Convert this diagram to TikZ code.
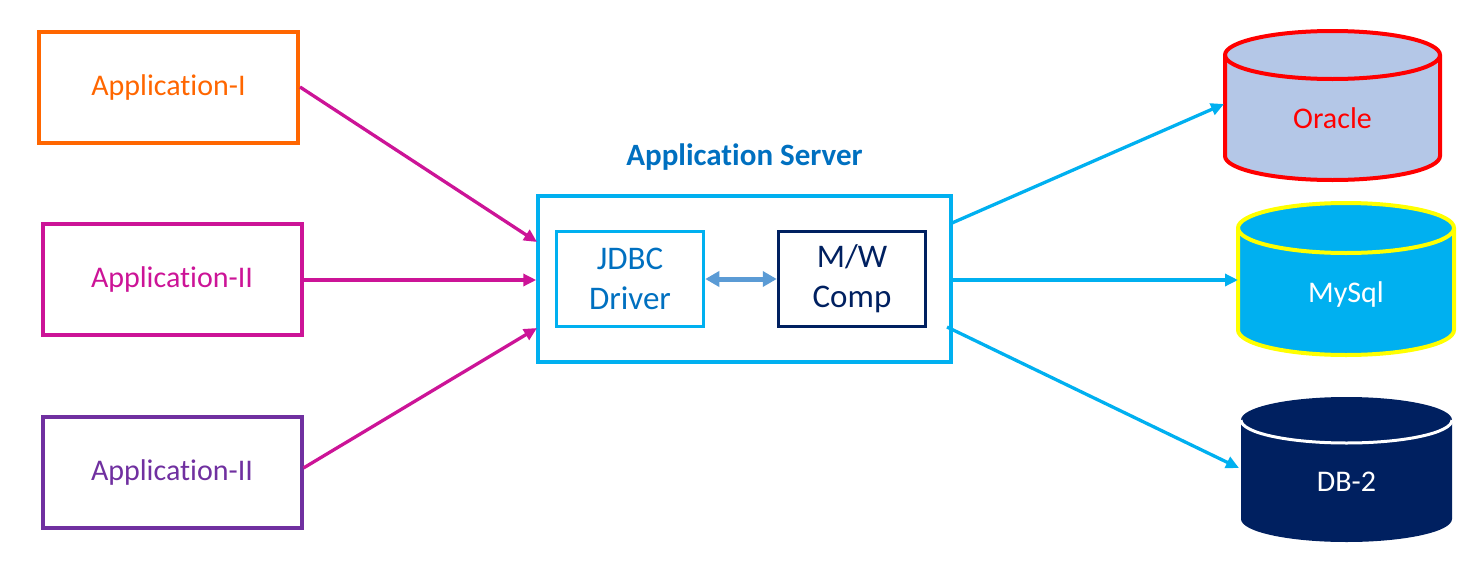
\documentclass[tikz,border=0pt]{standalone}
\usepackage{fontspec}
\setmainfont[RawFeature={-liga;-clig;-dlig;-calt}]{Carlito}
\usetikzlibrary{arrows.meta,calc}
\definecolor{cOrange}{HTML}{FF6600}
\definecolor{cMagenta}{HTML}{CC1497}
\definecolor{cPurple}{HTML}{7030A0}
\definecolor{cLightBlue}{HTML}{00B0F0}
\definecolor{cBlueText}{HTML}{0070C0}
\definecolor{cNavy}{HTML}{002060}
\definecolor{cSteel}{HTML}{5B9BD5}
\definecolor{cOracleFill}{HTML}{B4C7E7}
\definecolor{cYellow}{HTML}{FFFF00}
\tikzset{
  appbox/.style={draw, line width=4pt, minimum width=259pt, minimum height=111pt, inner sep=0pt, font=\fontsize{30}{34}\selectfont},
  innerbox/.style={draw, line width=3.5pt, minimum width=147pt, minimum height=95pt, inner sep=0pt, align=center, font=\fontsize{33}{40}\selectfont},
  inconn/.style={draw=cMagenta, line width=3.3pt, -{Triangle[length=13pt,width=12pt]}},
  outconn/.style={draw=cLightBlue, line width=3.3pt, -{Triangle[length=13pt,width=12pt]}},
  dblabel/.style={font=\fontsize{30}{34}\selectfont, inner sep=0pt},
}
\begin{document}
\begin{tikzpicture}[x=1pt,y=1pt]
\useasboundingbox (0,0) rectangle (1481,-565);
% application boxes
\node[appbox, draw=cOrange, text=cOrange] (app1) at (168.5,-87.5) {\raisebox{-2pt}{Application-I}};
\node[appbox, draw=cMagenta, text=cMagenta] (app2) at (172,-279) {\raisebox{-2pt}{Application-II}};
\node[appbox, draw=cPurple, text=cPurple] (app3) at (172,-472) {\raisebox{-2pt}{Application-II}};
% server
\node[draw=cLightBlue, line width=3.5pt, minimum width=413pt, minimum height=166pt, inner sep=0pt] (server) at (744.5,-279) {};
\node[font=\bfseries\fontsize{31}{34}\selectfont, text=cBlueText, inner sep=0pt] (srvlabel) at (744.5,-157) {Application Server};
\node[innerbox, draw=cLightBlue, text=cBlueText] (jdbc) at (630,-279) {JDBC\\Driver};
\node[innerbox, draw=cNavy, text=cNavy] (mw) at (852,-279) {M/W\\Comp};
\draw[draw=cSteel, line width=5pt, {Triangle[length=14pt,width=15pt]}-{Triangle[length=14pt,width=15pt]}] (jdbc.east) -- (mw.west);
% cylinders
\path[fill=cOracleFill, draw=red, line width=4pt] (1225,-55) -- (1225,-156) arc[start angle=180,end angle=360,x radius=107.5,y radius=24] -- (1440,-55) arc[start angle=0,end angle=180,x radius=107.5,y radius=24] -- cycle;
\draw[red, line width=4pt] (1225,-55) arc[start angle=180,end angle=360,x radius=107.5,y radius=24];
\path[fill=cLightBlue, draw=cYellow, line width=4pt] (1238,-228) -- (1238,-330) arc[start angle=180,end angle=360,x radius=108,y radius=25] -- (1454,-228) arc[start angle=0,end angle=180,x radius=108,y radius=25] -- cycle;
\draw[cYellow, line width=4pt] (1238,-228) arc[start angle=180,end angle=360,x radius=108,y radius=25];
\path[fill=cNavy] (1241,-420) -- (1241,-519) arc[start angle=180,end angle=360,x radius=105.5,y radius=23] -- (1452,-420) arc[start angle=0,end angle=180,x radius=105.5,y radius=23] -- cycle;
\draw[white, line width=3pt] (1241,-420) arc[start angle=180,end angle=360,x radius=105.5,y radius=23];
\node[dblabel, text=red] (oracle) at (1332.5,-118) {Oracle};
\node[dblabel, text=white] (mysql) at (1346,-294) {MySql};
\node[dblabel, text=white] (db2) at (1346.5,-482) {DB-2};
% connector end points
\coordinate (oracleIn) at (1224,-104);
\coordinate (mysqlIn) at (1238,-280);
\coordinate (db2In) at (1239,-468);
\coordinate (srvOutA) at (952,-223);
\coordinate (srvOutC) at (947,-327);
\coordinate (srvInA) at (537,-242);
\coordinate (srvInC) at (537,-328);
% connectors
\draw[inconn] (app1.east |- 0,-87) -- (srvInA);
\draw[inconn] (app2.east |- 0,-280) -- (server.west |- 0,-280);
\draw[inconn] (app3.east |- 0,-468) -- (srvInC);
\draw[outconn] (srvOutA) -- (oracleIn);
\draw[outconn] (server.east |- 0,-280) -- (mysqlIn);
\draw[outconn] (srvOutC) -- (db2In);
\end{tikzpicture}
\end{document}
